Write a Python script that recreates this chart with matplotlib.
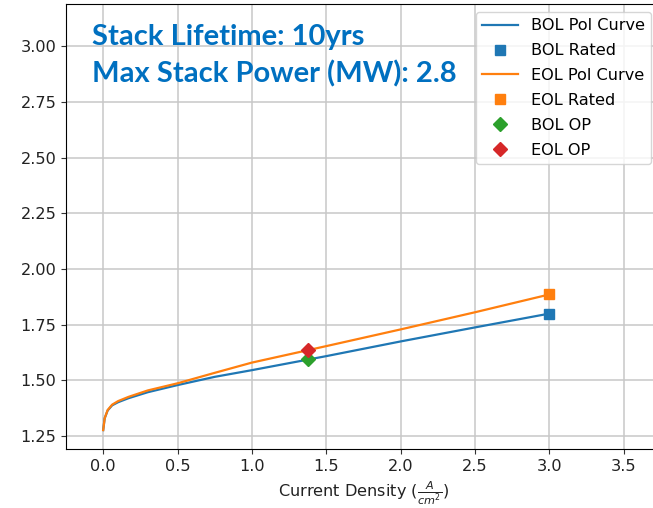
import matplotlib
matplotlib.use("Agg")
import matplotlib.pyplot as plt

# polarization curves
current_density = [0.0, 0.01, 0.03, 0.06, 0.1, 0.17, 0.3, 0.5, 0.75, 1.0, 1.5, 2.0, 2.5, 3.0]
bol_voltage = [1.277, 1.33, 1.365, 1.388, 1.402, 1.42, 1.447, 1.479, 1.516, 1.546, 1.609, 1.675, 1.738, 1.800]
eol_voltage = [1.277, 1.33, 1.367, 1.391, 1.407, 1.426, 1.455, 1.487, 1.534, 1.58, 1.654, 1.729, 1.806, 1.886]

rated_current = 3.0
bol_rated_v = 1.800
eol_rated_v = 1.886

op_current = 1.375
bol_op_v = 1.594
eol_op_v = 1.636

lifetime_yrs = 10
max_power_mw = 2.8

FS = 11.6
W, H = 653, 508

fig = plt.figure(figsize=(W / 100, H / 100), dpi=100)
ax = fig.add_axes([66 / W, (H - 449) / H, (661 - 66) / W, (449 - 4) / H])

ax.plot(current_density, bol_voltage, color="#1f77b4", lw=1.6, label="BOL Pol Curve")
ax.plot(rated_current, bol_rated_v, "s", color="#1f77b4", ms=7.5, label="BOL Rated")
ax.plot(current_density, eol_voltage, color="#ff7f0e", lw=1.6, label="EOL Pol Curve")
ax.plot(rated_current, eol_rated_v, "s", color="#ff7f0e", ms=7.5, label="EOL Rated")
ax.plot(op_current, bol_op_v, "D", color="#2ca02c", ms=7, label="BOL OP")
ax.plot(op_current, eol_op_v, "D", color="#d62728", ms=7, label="EOL OP")

ax.set_xlim(-0.25, 3.75)
ax.set_ylim(1.192, 3.19)
ax.set_xticks([0.0, 0.5, 1.0, 1.5, 2.0, 2.5, 3.0, 3.5])
ax.set_yticks([1.25, 1.50, 1.75, 2.00, 2.25, 2.50, 2.75, 3.00])
ax.tick_params(labelsize=FS, colors="#333333", labelcolor="#222222")
ax.grid(True, color="#c8c8c8", lw=1.1)
ax.set_xlabel(r"Current Density ($\frac{A}{cm^2}$)", fontsize=FS, color="#222222")

ax.legend(loc="upper left", bbox_to_anchor=(476 / W, 1 - 12 / H),
          bbox_transform=fig.transFigure, borderaxespad=0, fontsize=FS,
          handlelength=2.2, labelspacing=0.61)

fig.text(92 / W, 1 - 45 / H, f"Stack Lifetime: {lifetime_yrs}yrs",
         fontsize=21, fontweight="bold", family="Lato", color="#0070C0",
         va="baseline")
fig.text(92 / W, 1 - 82 / H, f"Max Stack Power (MW): {max_power_mw}",
         fontsize=21, fontweight="bold", family="Lato", color="#0070C0",
         va="baseline")

fig.savefig("out.png", dpi=100)
